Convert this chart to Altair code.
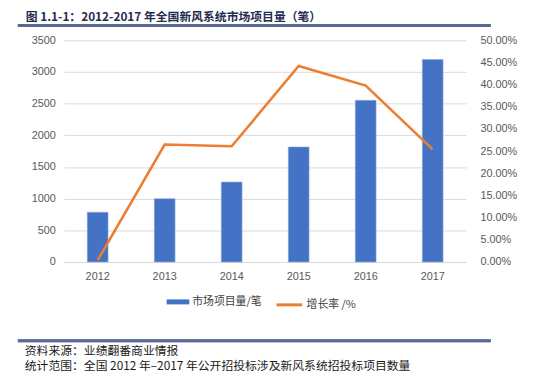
import altair as alt
import pandas as pd

years = ["2012", "2013", "2014", "2015", "2016", "2017"]
projects = [785, 1000, 1262, 1815, 2552, 3198]
growth = [0.004, 0.265, 0.261, 0.442, 0.398, 0.254]

bar_name = "市场项目量/笔"
line_name = "增长率 /%"
title_text = "图 1.1-1：2012-2017 年全国新风系统市场项目量（笔）"
footer1 = "资料来源：业绩翻番商业情报"
footer2 = "统计范围：全国 2012 年–2017 年公开招投标涉及新风系统招投标项目数量"

df = pd.DataFrame({"year": years, "projects": projects, "growth": growth})

CJK = "Noto Sans CJK SC"
LAB = "Liberation Sans"
RULE = "#5a6a90"

x = alt.X("year:O", title=None,
          scale=alt.Scale(paddingInner=0.69, paddingOuter=0.345),
          axis=alt.Axis(labelAngle=0, ticks=False, domainColor="#d9d9d9",
                        labelColor="#595959", labelFont=LAB, labelFontSize=11,
                        labelPadding=9))

bars = alt.Chart(df).mark_bar(stroke="#8eaadb", strokeWidth=0.6).encode(
    x=x,
    y=alt.Y("projects:Q", title=None,
            scale=alt.Scale(domain=[0, 3500]),
            axis=alt.Axis(values=list(range(0, 3501, 500)), format="d", ticks=False, domain=False,
                          gridColor="#d9d9d9", gridWidth=1,
                          labelColor="#595959", labelFont=LAB, labelFontSize=11,
                          labelPadding=9)),
    color=alt.Color("s:N", scale=alt.Scale(domain=[bar_name], range=["#4472C4"]),
                    legend=alt.Legend(title=None, orient="none", legendX=104, legendY=254,
                                      symbolType="M-1,-0.22H1V0.22H-1Z", symbolSize=529,
                                      symbolStrokeWidth=0, labelFont=CJK, labelFontSize=11,
                                      labelColor="#404040", labelOffset=3, padding=0)),
).transform_calculate(s=f"'{bar_name}'")

line = alt.Chart(df).mark_line(strokeWidth=2.6).encode(
    x=x,
    y=alt.Y("growth:Q", title=None,
            scale=alt.Scale(domain=[0, 0.5]),
            axis=alt.Axis(orient="right", format=".2%",
                          values=[i * 0.05 for i in range(11)], ticks=False, domain=False,
                          grid=False, labelColor="#595959", labelFont=LAB, labelFontSize=11,
                          labelPadding=14)),
    stroke=alt.Stroke("t:N", scale=alt.Scale(domain=[line_name], range=["#ED7D31"]),
                      legend=alt.Legend(title=None, orient="none", legendX=214, legendY=254,
                                        symbolType="stroke", symbolSize=676,
                                        symbolStrokeWidth=3, labelFont=CJK, labelFontSize=11,
                                        labelColor="#404040", labelOffset=3, padding=0)),
).transform_calculate(t=f"'{line_name}'")

deco = pd.DataFrame({"k": [0]})


def sep(yv):
    r = alt.Chart(deco).mark_rule(strokeWidth=3).encode(
        x=alt.value(-47), x2=alt.value(433), y=alt.value(yv),
        color=alt.value(RULE))
    t = alt.Chart(deco).mark_tick(orient="horizontal", thickness=3, size=480,
                                  color=RULE).encode(
        x=alt.value(193), y=alt.value(yv))
    return [r, t]


f1 = alt.Chart(deco).mark_text(text=footer1, align="left", baseline="middle",
                               font=CJK, fontSize=12, color="#1a1a1a").encode(
    x=alt.value(-40), y=alt.value(315))
f2 = alt.Chart(deco).mark_text(text=footer2, align="left", baseline="middle",
                               font=CJK, fontSize=12, color="#1a1a1a").encode(
    x=alt.value(-40), y=alt.value(331))

chart = alt.layer(bars, line, *sep(-15), *sep(305), f1, f2).resolve_scale(
    y="independent"
).properties(
    width=408, height=225,
    autosize=alt.AutoSizeParams(type="none"),
    padding={"left": 57, "top": 30, "right": 81, "bottom": 118},
    title=alt.TitleParams(title_text, anchor="start", frame="group", dx=-39, offset=0,
                          font=CJK, fontSize=12, fontWeight="bold", color="#1f2d50"),
).configure_view(stroke=None)

chart.save("out.html", embed_options={"renderer": "svg", "actions": False})
